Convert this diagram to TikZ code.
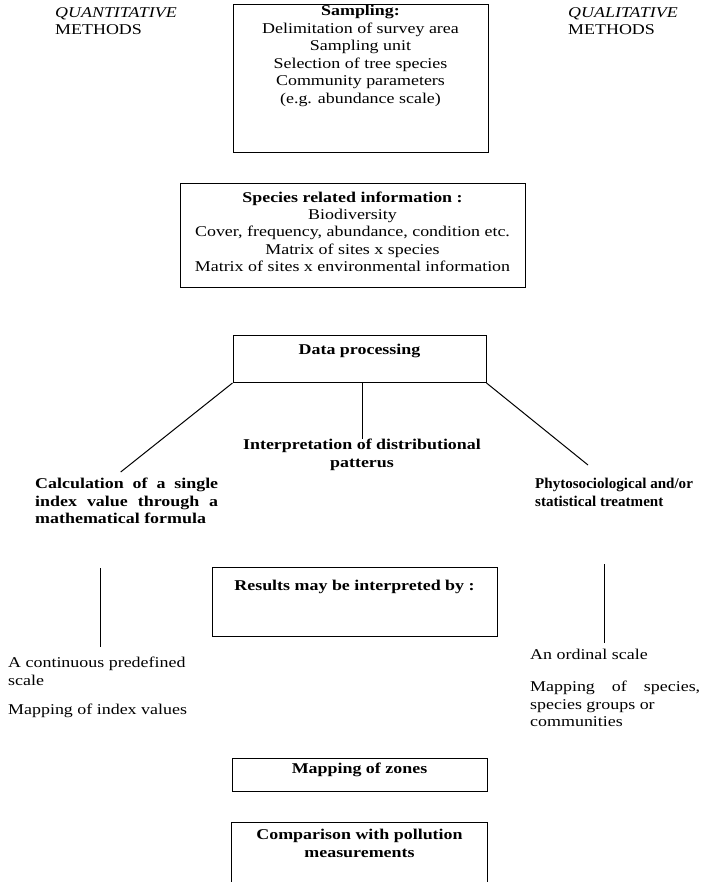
\documentclass[tikz,border=0pt]{standalone}
\usepackage{fontspec}
\setmainfont{Liberation Serif}[FakeStretch=1.2]
\usetikzlibrary{positioning,calc}

% box of fixed size, text starting at its top
\newcommand{\topbox}[4]{\parbox[c][#2][t]{#1}{\centering\vspace*{#3}#4}}
\newcommand{\narrow}[1]{\scalebox{0.84}[1]{#1}}

\begin{document}
\begin{tikzpicture}[x=1bp,y=-1bp,font=\fontsize{15}{17.5}\selectfont]

\tikzstyle{box}=[draw,line width=1bp,inner sep=0pt,anchor=north]
\tikzstyle{txt}=[inner sep=0pt,align=left,anchor=north west]
\tikzstyle{link}=[line width=1bp]

\useasboundingbox (0,0) rectangle (705,882);

   %headings
   \node (quant) [txt] at (55,7) {\textit{QUANTITATIVE}\\METHODS};
   \node (qual) [txt] at (568,7) {\textit{QUALITATIVE}\\METHODS};

   %main column
   \node (samp) [box] at (360.5,4) {\topbox{255bp}{148bp}{1bp}{\textbf{Sampling:}\\
      Delimitation of survey area\\ Sampling unit\\ Selection of tree species\\
      Community parameters\\ (e.g. abundance scale)}};
   \node (spec) [box] at (352.5,183) {\topbox{345bp}{104bp}{8bp}{\textbf{Species related information :}\\
      Biodiversity\\ Cover, frequency, abundance, condition etc.\\ Matrix of sites x species\\
      Matrix of sites x environmental information}};
   \node (dp) [box] at (359.5,335) {\topbox{253bp}{47bp}{9bp}{\textbf{Data processing}}};

   %three branches
   \node (interp) [txt,align=center,anchor=north,font=\fontsize{15}{17.5}\selectfont\bfseries] at (362,439)
      {Interpretation of distributional\\ patterus};
   \node (calc) [txt,font=\fontsize{15}{17.5}\selectfont\bfseries] at (35,478)
      {\makebox[183bp][s]{Calculation of a single}\\ \makebox[183bp][s]{index value through a}\\ mathematical formula};
   \node (phyto) [txt,font=\fontsize{15}{17.5}\selectfont\bfseries] at (535,478)
      {\narrow{Phytosociological and/or}\\ \narrow{statistical treatment}};

   \draw[link] (dp.south west) -- ([xshift=-6bp,yshift=6bp]calc.north);
   \draw[link] (dp.south -| interp.north) -- (interp.north);
   \draw[link] (dp.south east) -- ([xshift=53bp,yshift=13bp]phyto.north west);

   %interpretation
   \node (res) [box] at (354.5,567) {\topbox{285bp}{69bp}{13bp}{\textbf{Results may be interpreted by :}}};

   \coordinate (lq top) at (100,568);
   \coordinate (lq bot) at (100,647);
   \coordinate (rq top) at (604,564);
   \coordinate (rq bot) at (604,643);
   \draw[link] (lq top) -- (lq bot);
   \draw[link] (rq top) -- (rq bot);

   \node (cont) [txt] at (8,657) {A continuous predefined\\ scale};
   \node (mapidx) [txt] at (8,704) {Mapping of index values};
   \node (ordinal) [txt] at (530,649) {An ordinal scale};
   \node (mapsp) [txt] at (530,681) {\makebox[170bp][s]{Mapping of species,}\\ species groups or\\ communities};

   %last steps
   \node (zones) [box] at (359.5,758) {\topbox{255bp}{33bp}{4bp}{\textbf{Mapping of zones}}};
   \node (cmp) [box,draw=none] at (359.5,822) {\topbox{255bp}{60bp}{7bp}{\textbf{Comparison with pollution}\\
      \textbf{measurements}}};
   \draw[link] (cmp.south west) -- (cmp.north west) -- (cmp.north east) -- (cmp.south east);

\end{tikzpicture}
\end{document}
